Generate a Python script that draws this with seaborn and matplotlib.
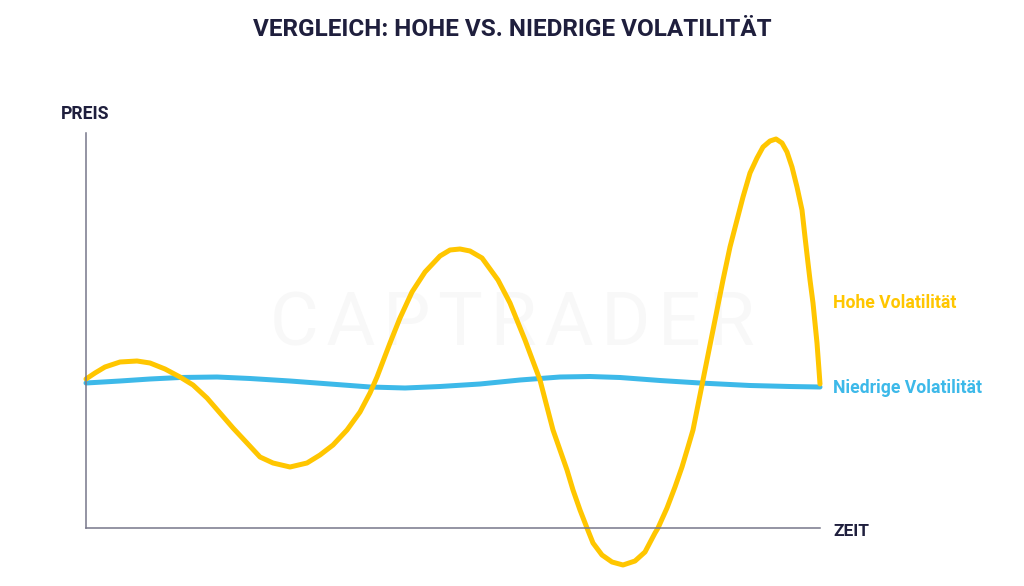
import pandas as pd
import matplotlib
matplotlib.use('Agg')
import matplotlib.pyplot as plt
import seaborn as sns

# Werte (Zeit / Preis, willkuerliche Einheiten)
zeit_hoch = [0, 9, 19, 34, 51, 64, 79, 94, 107, 121, 134, 147, 161, 174, 187, 204, 221, 234, 247, 261,
             274, 284, 291, 304, 314, 326, 339, 354, 364, 374, 384, 396, 412, 424, 439, 454, 467, 474,
             481, 487, 494, 501, 507, 516, 526, 537, 549, 559, 569, 572, 581, 589, 596, 602, 607, 617,
             627, 637, 644, 651, 657, 664, 671, 677, 684, 690, 696, 701, 706, 711, 716, 719, 722, 724,
             727, 731, 733, 734]
preis_hoch = [149, 155, 161, 166, 167, 165, 159, 151, 143, 130, 115, 100, 85, 71, 65, 61, 65, 73, 83, 98,
              116, 135, 151, 185, 210, 236, 256, 272, 278, 279, 277, 270, 248, 225, 188, 148, 98, 78,
              58, 38, 18, 0, -15, -27, -34, -37, -33, -24, -5, 0, 20, 41, 61, 81, 98, 148,
              198, 248, 281, 308, 331, 355, 370, 381, 387, 389, 385, 376, 361, 341, 318, 291, 265, 248,
              225, 185, 158, 144]
zeit_niedrig = [0, 34, 64, 94, 131, 164, 204, 244, 284, 319, 354, 394, 434, 474, 504, 534, 574, 614, 664, 704, 734]
preis_niedrig = [145, 147, 149, 150.5, 151, 149.5, 147, 144, 141, 140, 141.5, 144, 148, 151, 151.5, 150.5, 147.5, 145, 142.5, 141.5, 141]

df_hoch = pd.DataFrame({'zeit': zeit_hoch, 'preis': preis_hoch})
df_niedrig = pd.DataFrame({'zeit': zeit_niedrig, 'preis': preis_niedrig})

gelb = '#ffc600'
blau = '#3db9e9'
dunkel = '#1f1f3d'

sns.set_theme(style='white')
plt.rcParams['font.family'] = ['Roboto', 'DejaVu Sans']

fig = plt.figure(figsize=(10.24, 5.86), dpi=100)
ax = fig.add_axes([86 / 1024, 1 - 528 / 586, 734 / 1024, 395 / 586])

# Wasserzeichen
ax.text(426, 203, '\u200a'.join('CAPTRADER'), color='#f8f8f8', fontsize=54, ha='center', va='center', zorder=0)

sns.lineplot(data=df_hoch, x='zeit', y='preis', color=gelb, linewidth=3.6, ax=ax,
             estimator=None, sort=False, clip_on=False, zorder=2)
sns.lineplot(data=df_niedrig, x='zeit', y='preis', color=blau, linewidth=3.6, ax=ax,
             estimator=None, sort=False, clip_on=False, zorder=1)

ax.set_xlim(0, 734)
ax.set_ylim(0, 395)
ax.set_xticks([])
ax.set_yticks([])
ax.set_xlabel('')
ax.set_ylabel('')
sns.despine(ax=ax)
for s in ['left', 'bottom']:
    ax.spines[s].set_color('#77778a')
    ax.spines[s].set_linewidth(1.1)

fig.text(512 / 1024, 1 - 30 / 586, 'VERGLEICH: HOHE VS. NIEDRIGE VOLATILITÄT', color=dunkel,
         fontsize=17.5, fontweight='bold', ha='center', va='center')
fig.text(61 / 1024, 1 - 114 / 586, 'PREIS', color=dunkel, fontsize=12.7, fontweight='bold', va='center')
fig.text(833 / 1024, 1 - 531 / 586, 'ZEIT', color=dunkel, fontsize=12.5, fontweight='bold', va='center')
fig.text(833 / 1024, 1 - 303 / 586, 'Hohe Volatilität', color=gelb, fontsize=12.7, fontweight='bold', va='center')
fig.text(833 / 1024, 1 - 388 / 586, 'Niedrige Volatilität', color=blau, fontsize=12.7, fontweight='bold', va='center')

fig.savefig('out.png', dpi=100)
